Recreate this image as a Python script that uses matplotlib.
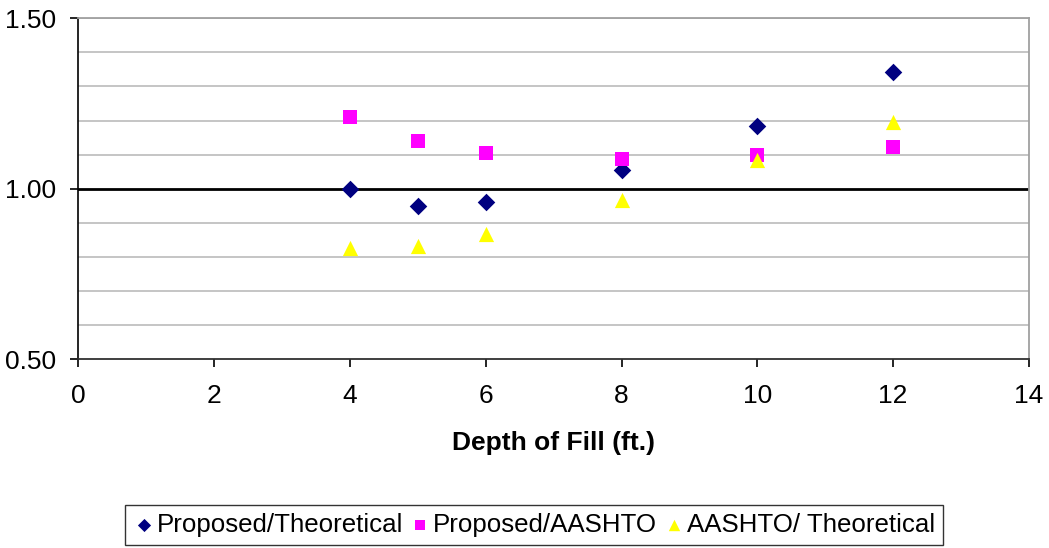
import matplotlib
matplotlib.use("Agg")
import matplotlib.pyplot as plt
from matplotlib.ticker import MultipleLocator

plt.rcParams['font.family'] = ['Liberation Sans', 'DejaVu Sans']

depth = [4, 5, 6, 8, 10, 12]
proposed_theoretical = [1.000, 0.950, 0.962, 1.055, 1.184, 1.342]
proposed_aashto = [1.211, 1.141, 1.106, 1.088, 1.100, 1.123]
aashto_theoretical = [0.827, 0.833, 0.868, 0.967, 1.084, 1.195]

fig = plt.figure(figsize=(10.49, 5.48), dpi=100)
ax = fig.add_axes([0.0748, 0.344, 0.906, 0.623])

ax.set_xlim(0, 14)
ax.set_ylim(0.5, 1.5)
ax.xaxis.set_major_locator(MultipleLocator(2))
ax.yaxis.set_major_locator(MultipleLocator(0.5))
ax.yaxis.set_minor_locator(MultipleLocator(0.1))
ax.yaxis.set_major_formatter(plt.FuncFormatter(lambda v, p: f"{v:.2f}"))

# horizontal gridlines every 0.1, reference line at 1.00
for yv in [0.6, 0.7, 0.8, 0.9, 1.1, 1.2, 1.3, 1.4, 1.5]:
    ax.axhline(yv, color='#c0c0c0', lw=1.3, zorder=0)
ax.axhline(1.0, color='black', lw=2.0, zorder=1)

ax.scatter(depth, proposed_theoretical, marker='D', s=80, color='#000080',
           linewidths=0, zorder=3, label='Proposed/Theoretical')
ax.scatter(depth, proposed_aashto, marker='s', s=110, color='#ff00ff',
           linewidths=0, zorder=3, label='Proposed/AASHTO')
ax.scatter(depth, aashto_theoretical, marker='^', s=120, color='#ffff00',
           linewidths=0, zorder=3, label='AASHTO/ Theoretical')

for side in ['top', 'right']:
    ax.spines[side].set_color('#a0a0a0')
    ax.spines[side].set_linewidth(1.3)
ax.spines['left'].set_color('black')
ax.spines['left'].set_linewidth(1.2)
ax.spines['bottom'].set_color('#303030')
ax.spines['bottom'].set_linewidth(1.3)

ax.tick_params(axis='both', which='major', direction='out', length=6,
               width=1.2, labelsize=19, colors='black')
ax.tick_params(axis='y', which='minor', length=0)
ax.tick_params(axis='y', which='major', pad=10)
ax.tick_params(axis='x', which='major', pad=12)

ax.set_xlabel('Depth of Fill (ft.)', fontsize=19, fontweight='bold', labelpad=16)

leg = fig.legend(loc='center', bbox_to_anchor=(0.509, 0.042), ncol=3,
                 fontsize=18.6, frameon=True, fancybox=False, edgecolor='black',
                 handletextpad=0.05, columnspacing=0.2, borderpad=0.3,
                 markerscale=0.75, handlelength=0.9)
leg.get_frame().set_linewidth(1.0)

fig.savefig('out.png', dpi=100, facecolor='white')
